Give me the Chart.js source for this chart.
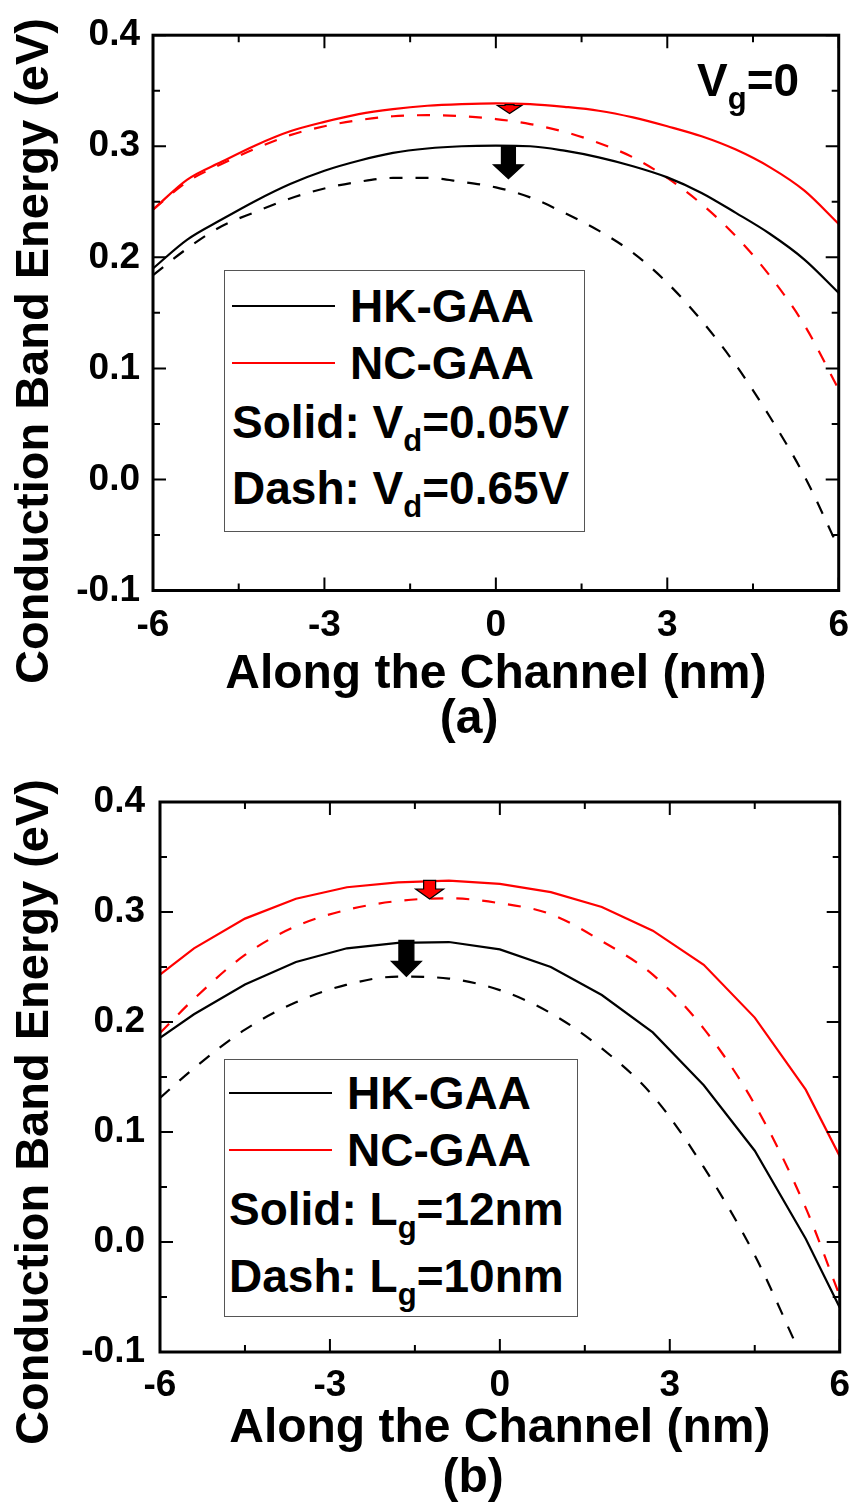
<!DOCTYPE html>
<html>
<head>
<meta charset="utf-8">
<script src="https://cdn.jsdelivr.net/npm/chart.js@4.4.0/dist/chart.umd.min.js"></script>
<title>Conduction band energy</title>
<style>
  body { margin: 0; width: 862px; height: 1504px; background: #fff; position: relative; overflow: hidden;
         font-family: "Liberation Sans", Arial, sans-serif; font-weight: bold; color: #000; }
  canvas { position: absolute; left: 0; }
  .legend { position: absolute; box-sizing: border-box; border: 1.5px solid #555; background: #fff; }
  .row { position: absolute; font-size: 46px; line-height: 46px; white-space: nowrap; }
  .swatch { position: absolute; height: 0; border-top: 2px solid; }
  .note { position: absolute; font-size: 46px; line-height: 46px; white-space: nowrap; }
  sub { font-size: 31px; vertical-align: -13px; line-height: 0; }
</style>
</head>
<body>
<canvas id="ca" width="862" height="745" style="top:0"></canvas>
<canvas id="cb" width="862" height="752" style="top:752px"></canvas>

<div class="note" style="left:697px;top:57px">V<sub>g</sub>=0</div>

<div class="legend" style="left:224px;top:270px;width:361px;height:262px">
  <div class="swatch" style="left:7px;width:103px;top:34px;border-color:#000"></div>
  <div class="row" style="left:125px;top:12px">HK-GAA</div>
  <div class="swatch" style="left:7px;width:103px;top:91px;border-color:#f00"></div>
  <div class="row" style="left:125px;top:69px">NC-GAA</div>
  <div class="row" style="left:7px;top:128px">Solid: V<sub>d</sub>=0.05V</div>
  <div class="row" style="left:7px;top:194px">Dash: V<sub>d</sub>=0.65V</div>
</div>

<div class="legend" style="left:224px;top:1059px;width:354px;height:258px">
  <div class="swatch" style="left:4px;width:103px;top:32px;border-color:#000"></div>
  <div class="row" style="left:122px;top:10px">HK-GAA</div>
  <div class="swatch" style="left:4px;width:103px;top:89px;border-color:#f00"></div>
  <div class="row" style="left:122px;top:67px">NC-GAA</div>
  <div class="row" style="left:4px;top:126px">Solid: L<sub>g</sub>=12nm</div>
  <div class="row" style="left:4px;top:193px">Dash: L<sub>g</sub>=10nm</div>
</div>

<script>
// ---- data ----
// (a) Vg = 0, solid Vd = 0.05 V, dash Vd = 0.65 V
var xA = [-6, -5.4, -4.8, -4.2, -3.6, -3, -2.4, -1.8, -1.2, -0.6, 0, 0.6, 1.2, 1.8, 2.4, 3, 3.6, 4.2, 4.8, 5.4, 6];
var hkSolidA = [0.190, 0.216, 0.234, 0.251, 0.266, 0.278, 0.287, 0.294, 0.298, 0.300, 0.3005, 0.300, 0.296, 0.290, 0.282, 0.272, 0.258, 0.240, 0.221, 0.198, 0.168];
var hkDashA  = [0.184, 0.208, 0.228, 0.241, 0.253, 0.262, 0.268, 0.2715, 0.2715, 0.268, 0.263, 0.254, 0.240, 0.224, 0.204, 0.177, 0.143, 0.103, 0.056, 0.003, -0.062];
var ncSolidA = [0.243, 0.270, 0.286, 0.301, 0.3135, 0.322, 0.329, 0.3335, 0.3365, 0.338, 0.3387, 0.338, 0.3355, 0.332, 0.326, 0.318, 0.309, 0.297, 0.281, 0.260, 0.230];
var ncDashA  = [0.243, 0.268, 0.284, 0.298, 0.310, 0.318, 0.3235, 0.327, 0.328, 0.327, 0.3245, 0.320, 0.313, 0.303, 0.290, 0.2715, 0.248, 0.219, 0.183, 0.139, 0.081];

// (b) solid Lg = 12 nm, dash Lg = 10 nm
var xB = [-6, -5.4, -4.5, -3.6, -2.7, -1.8, -0.9, 0, 0.9, 1.8, 2.7, 3.6, 4.5, 5.4, 6];
var hkSolidB = [0.1855, 0.207, 0.234, 0.2545, 0.267, 0.272, 0.2727, 0.266, 0.250, 0.2245, 0.1905, 0.1425, 0.083, 0.003, -0.0595];
var ncSolidB = [0.243, 0.267, 0.294, 0.312, 0.3225, 0.327, 0.3285, 0.3255, 0.318, 0.3045, 0.283, 0.252, 0.204, 0.1385, 0.078];
var ncDashB  = [0.190, 0.221, 0.261, 0.287, 0.302, 0.310, 0.3125, 0.308, 0.298, 0.2735, 0.243, 0.194, 0.125, 0.031, -0.049];
var xBdash   = [-6, -5.4, -4.5, -3.6, -2.7, -1.8, -0.9, 0, 0.9, 1.8, 2.7, 3.6, 4.5, 5.25];
var hkDashB  = [0.131, 0.158, 0.193, 0.218, 0.234, 0.2413, 0.2395, 0.229, 0.208, 0.176, 0.133, 0.068, -0.012, -0.0955];

var xTicks = [-6, -3, 0, 3, 6];
var yTicks = [-0.1, 0.0, 0.1, 0.2, 0.3, 0.4];

// arrows: x position, start and tip energy
var arrowsA = [{x: 0.22, from: 0.300, to: 0.2707}, {x: 0.24, from: 0.3375, to: 0.3295}];
var arrowsB = [{x: -1.65, from: 0.2742, to: 0.2415}, {x: -1.24, from: 0.3287, to: 0.3118}];

var FONT = "'Liberation Sans', Arial, sans-serif";

function pts(xs, ys) {
  return xs.map(function (x, i) { return {x: x, y: ys[i]}; });
}

function line(xs, ys, color, dashed, smooth) {
  return {
    data: pts(xs, ys),
    borderColor: color,
    borderWidth: 2.2,
    borderDash: dashed ? [13, 13] : [],
    pointRadius: 0,
    fill: false,
    cubicInterpolationMode: smooth ? 'monotone' : 'default',
    tension: 0
  };
}

function isMajor(v, step) {
  var r = v / step;
  return Math.abs(r - Math.round(r)) < 1e-6;
}

function drawArrow(ctx, px, top, tip, st) {
  ctx.beginPath();
  ctx.moveTo(px - st.sw / 2, top);
  ctx.lineTo(px + st.sw / 2, top);
  ctx.lineTo(px + st.sw / 2, tip - st.hl);
  ctx.lineTo(px + st.hw / 2, tip - st.hl);
  ctx.lineTo(px, tip);
  ctx.lineTo(px - st.hw / 2, tip - st.hl);
  ctx.lineTo(px - st.sw / 2, tip - st.hl);
  ctx.closePath();
  ctx.fillStyle = st.fill;
  ctx.fill();
  ctx.lineWidth = 1.2;
  ctx.strokeStyle = '#000';
  ctx.stroke();
}

// box, inward major/minor ticks on four sides, arrows, rotated y title
var framePlugin = {
  id: 'frame',
  afterDatasetsDraw: function (chart, args, o) {
    var ctx = chart.ctx, a = chart.chartArea;
    var xs = chart.scales.x, ys = chart.scales.y;
    var v, p, len, i;
    ctx.save();
    ctx.strokeStyle = '#000';
    ctx.lineWidth = 2;
    ctx.beginPath();
    for (i = 0; ; i++) {
      v = xs.min + i * o.xMinor;
      if (v > xs.max + 1e-9) break;
      p = xs.getPixelForValue(v);
      len = isMajor(v, o.xMajor) ? 13 : 7;
      ctx.moveTo(p, a.bottom); ctx.lineTo(p, a.bottom - len);
      ctx.moveTo(p, a.top); ctx.lineTo(p, a.top + len);
    }
    for (i = 0; ; i++) {
      v = ys.min + i * o.yMinor;
      if (v > ys.max + 1e-9) break;
      p = ys.getPixelForValue(v);
      len = isMajor(v, o.yMajor) ? 13 : 7;
      ctx.moveTo(a.left, p); ctx.lineTo(a.left + len, p);
      ctx.moveTo(a.right, p); ctx.lineTo(a.right - len, p);
    }
    ctx.stroke();
    ctx.lineWidth = 3;
    ctx.strokeRect(a.left, a.top, a.right - a.left, a.bottom - a.top);

    o.arrows.forEach(function (ar, k) {
      drawArrow(ctx, xs.getPixelForValue(ar.x), ys.getPixelForValue(ar.from), ys.getPixelForValue(ar.to), o.arrowStyle[k]);
    });

    ctx.fillStyle = '#000';
    ctx.font = 'bold 47px ' + FONT;
    ctx.textAlign = 'center';
    ctx.textBaseline = 'middle';
    ctx.translate(o.titleX, o.titleY);
    ctx.rotate(-Math.PI / 2);
    ctx.fillText(o.yTitle, 0, 0);
    ctx.restore();
  }
};

function makeChart(id, sets, cfg) {
  return new Chart(document.getElementById(id), {
    type: 'line',
    data: {datasets: sets},
    options: {
      responsive: false,
      animation: false,
      events: [],
      layout: {padding: cfg.pad},
      plugins: {
        legend: {display: false},
        tooltip: {enabled: false},
        frame: {
          xMinor: 1.5, xMajor: 3, yMinor: 0.05, yMajor: 0.1,
          arrows: cfg.arrows, arrowStyle: cfg.arrowStyle,
          yTitle: 'Conduction Band Energy (eV)', titleX: 35, titleY: cfg.titleY
        }
      },
      scales: {
        x: {
          type: 'linear', min: -6, max: 6,
          afterFit: function (s) { s.height = cfg.xh; },
          afterBuildTicks: function (s) { s.ticks = xTicks.map(function (v) { return {value: v}; }); },
          grid: {display: false, drawTicks: false}, border: {display: false},
          ticks: {
            color: '#000', padding: cfg.xpad, maxRotation: 0, autoSkip: false,
            font: {family: FONT, size: 37, weight: 'bold'},
            callback: function (v) { return String(v); }
          },
          title: {
            display: true, text: ['Along the Channel (nm)', cfg.tag], color: '#000',
            font: {family: FONT, size: 48, weight: 'bold', lineHeight: cfg.lh + 'px'},
            padding: {top: 0, bottom: cfg.tp}
          }
        },
        y: {
          type: 'linear', min: -0.1, max: 0.4,
          afterFit: function (s) { s.width = cfg.yw; },
          afterBuildTicks: function (s) { s.ticks = yTicks.map(function (v) { return {value: v}; }); },
          grid: {display: false, drawTicks: false}, border: {display: false},
          ticks: {
            color: '#000', padding: cfg.ypad,
            font: {family: FONT, size: 37, weight: 'bold'},
            callback: function (v) { return v.toFixed(1); }
          }
        }
      }
    },
    plugins: [framePlugin]
  });
}

makeChart('ca', [
  line(xA, hkSolidA, '#000', false, true),
  line(xA, hkDashA, '#000', true, true),
  line(xA, ncSolidA, '#f00', false, true),
  line(xA, ncDashA, '#f00', true, true)
], {
  pad: {top: 30, right: 14, left: 0, bottom: 0},
  xh: 154.5, yw: 153, lh: 45, tp: 3, tag: '(a)    ', titleY: 351,
  xpad: 13, ypad: 13,
  arrows: arrowsA,
  arrowStyle: [{sw: 14, hw: 30, hl: 14, fill: '#000'}, {sw: 9, hw: 24, hl: 8, fill: '#f00'}]
});

makeChart('cb', [
  line(xB, hkSolidB, '#000', false, false),
  line(xBdash, hkDashB, '#000', true, true),
  line(xB, ncSolidB, '#f00', false, false),
  line(xB, ncDashB, '#f00', true, true)
], {
  pad: {top: 50, right: 19, left: 0, bottom: 0},
  xh: 152, yw: 160, lh: 50, tp: 0, tag: '(b)    ', titleY: 360,
  xpad: 12, ypad: 15,
  arrows: arrowsB,
  arrowStyle: [{sw: 15, hw: 30, hl: 15, fill: '#000'}, {sw: 12, hw: 28, hl: 10, fill: '#f00'}]
});
</script>
</body>
</html>
